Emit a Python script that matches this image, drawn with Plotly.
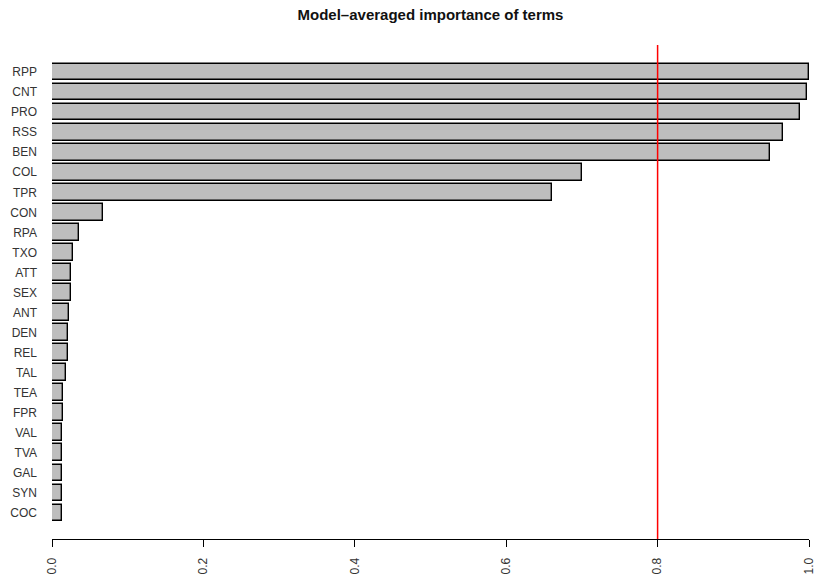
import plotly.graph_objects as go

# Terms, ordered from most to least important
terms = ["RPP", "CNT", "PRO", "RSS", "BEN", "COL", "TPR", "CON", "RPA", "TXO",
         "ATT", "SEX", "ANT", "DEN", "REL", "TAL", "TEA", "FPR", "VAL", "TVA",
         "GAL", "SYN", "COC"]
importance = [1.000, 0.997, 0.988, 0.965, 0.949, 0.700, 0.660, 0.068, 0.035, 0.0275,
              0.0245, 0.025, 0.0227, 0.0205, 0.0205, 0.018, 0.015, 0.015, 0.0126, 0.0126,
              0.0126, 0.0126, 0.0126]
threshold = 0.8
x_ticks = [0.0, 0.2, 0.4, 0.6, 0.8, 1.0]
x_tick_labels = ["0.0", "0.2", "0.4", "0.6", "0.8", "1.0"]

font_family = "Liberation Sans, Arial, Helvetica, sans-serif"

fig = go.Figure()
fig.add_trace(go.Bar(
    x=importance,
    y=terms,
    orientation="h",
    width=0.833,
    marker=dict(color="#bebebe", line=dict(color="black", width=1.4)),
    hoverinfo="skip",
))

# cut-off line
fig.add_shape(
    type="line", xref="x", yref="paper",
    x0=threshold, x1=threshold, y0=0, y1=1,
    line=dict(color="red", width=1.5), layer="above",
)

fig.update_layout(
    width=816, height=576,
    margin=dict(l=52, r=7, t=45, b=37, autoexpand=False),
    paper_bgcolor="white", plot_bgcolor="white",
    showlegend=False,
    font=dict(family=font_family, size=12, color="#333333"),
    title=dict(
        text="<b>Model–averaged importance of terms</b>",
        x=0.5, xref="paper", xanchor="center",
        y=1 - 15 / 576, yref="container", yanchor="middle",
        font=dict(family=font_family, size=15, color="#111111"),
    ),
    xaxis=dict(
        range=[0, 1],
        tickvals=x_ticks, ticktext=x_tick_labels,
        tickangle=-90,
        ticks="outside", ticklen=7, tickwidth=1, tickcolor="black",
        showline=True, linecolor="black", linewidth=1,
        showgrid=False, zeroline=False,
        automargin=False,
        ticklabelstandoff=6,
        tickfont=dict(size=12, color="#333333"),
        fixedrange=True,
    ),
    yaxis=dict(
        type="category",
        categoryorder="array", categoryarray=terms[::-1],
        range=[-1.3, len(terms) - 1 + 1.35],
        showline=False, showgrid=False, zeroline=False,
        automargin=False,
        ticks="", ticklabelstandoff=14,
        tickfont=dict(size=12, color="#333333"),
        fixedrange=True,
    ),
    bargap=0,
)

fig.write_html("out.html", config={"displayModeBar": False})
